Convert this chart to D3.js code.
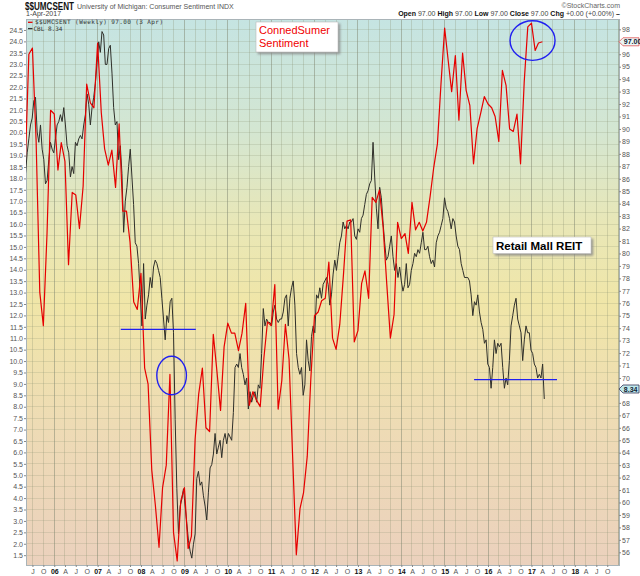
<!DOCTYPE html>
<html><head><meta charset="utf-8">
<script src="https://cdn.jsdelivr.net/npm/d3@7"></script>
<style>
body{margin:0;background:#fff;}
text{font-family:"Liberation Sans",Arial,sans-serif;}
</style>
</head><body>
<svg id="chart" width="640" height="576"></svg>
<script>
// ---------------- DATA ----------------
// University of Michigan Consumer Sentiment (monthly, right axis)
const sentStart = "2005-05-01";
const sentValues = [
 86.9,96.0,96.5,89.1,76.9,74.2,81.6,91.5,               // 2005 May-Dec
 91.2,86.7,88.9,87.4,79.1,84.9,84.7,82.0,85.4,93.6,92.1,91.7, // 2006
 96.9,91.3,88.4,87.1,88.3,85.3,90.4,83.4,83.4,80.9,76.1,75.5, // 2007
 78.4,70.8,69.5,62.6,59.8,56.4,61.2,63.0,70.3,57.6,55.3,60.1, // 2008
 61.2,56.3,57.3,65.1,68.7,70.8,66.0,65.7,73.5,70.6,67.4,72.5, // 2009
 74.4,73.6,73.6,72.2,73.6,76.0,67.8,68.9,68.2,67.7,71.6,74.5, // 2010
 74.2,77.5,67.5,69.8,74.3,71.5,63.7,55.8,59.5,60.8,63.7,69.9, // 2011
 75.0,75.3,76.2,76.4,79.3,73.2,72.3,74.3,78.3,82.6,82.7,72.9, // 2012
 73.8,77.6,78.6,76.4,84.5,84.1,85.1,82.1,77.5,73.2,75.1,82.5, // 2013
 81.2,81.6,80.0,84.1,81.9,82.5,81.8,82.5,84.6,86.9,88.8,93.6, // 2014
 98.1,95.4,93.0,95.9,90.7,96.1,93.1,91.9,87.2,90.0,91.3,92.6, // 2015
 92.0,91.7,91.0,89.0,94.7,93.5,90.0,89.8,91.2,87.2,93.8,98.2, // 2016
 98.5,96.3,96.9,97.0                                          // 2017
];
// CBL (biweekly readings, left axis)
const cblStart = "2005-05-04";
const cblStepDays = 14;
const cblValues = [
 18.21,19.12,19.73,20.34,20.64,21.40,21.55,20.03,19.58,20.34,
 19.28,18.82,17.76,17.91,18.82,19.58,19.28,19.12,19.73,20.34,
 20.49,20.79,20.49,21.10,20.34,19.43,19.12,18.06,18.52,18.21,
 19.58,19.43,19.73,19.88,19.73,20.34,20.79,21.70,21.25,20.34,
 21.10,21.55,22.16,23.07,23.98,23.52,24.43,24.28,22.99,22.99,
 23.68,23.83,22.61,21.10,20.34,20.49,18.82,19.43,18.21,15.64,
 17.00,17.61,18.52,19.28,18.06,16.85,15.18,15.03,14.27,12.90,
 11.54,14.27,11.84,12.45,12.90,13.66,13.21,14.12,14.42,14.27,
 13.97,13.66,12.75,11.84,10.93,11.99,11.69,12.60,12.75,11.24,
 7.44,4.41,2.43,3.65,3.95,4.41,3.65,2.89,2.13,1.68,
 1.37,1.98,2.43,4.86,5.17,4.56,4.71,4.10,3.65,3.04,
 4.26,5.32,5.47,5.93,6.83,5.93,6.23,6.53,5.77,6.53,
 6.83,6.38,6.83,6.68,6.53,7.75,9.72,9.87,9.72,10.33,
 9.72,9.42,8.96,9.26,7.90,8.66,8.20,8.50,8.66,8.20,
 8.96,8.81,10.33,12.30,11.54,11.84,11.69,11.69,11.54,12.15,
 12.45,11.84,11.69,11.84,11.84,12.15,12.75,12.90,11.54,12.75,
 13.21,13.51,
 12.45,10.33,9.72,9.42,9.72,8.50,8.96,10.93,10.02,9.57,
 11.08,11.54,11.24,12.90,12.75,13.21,12.75,13.36,13.51,13.66,
 13.36,12.45,12.90,13.81,14.42,13.97,14.57,15.18,15.48,16.09,
 15.79,15.94,15.79,16.09,16.09,16.24,15.48,15.33,15.79,15.64,
 16.24,16.39,16.85,17.30,17.46,17.76,17.91,19.58,18.06,16.70,
 15.79,17.61,17.15,16.09,15.18,14.42,14.57,15.03,15.48,14.57,
 13.97,14.27,13.66,14.12,13.51,13.06,13.36,14.27,13.21,13.36,
 13.97,14.27,14.72,14.57,14.88,14.72,15.18,15.64,14.88,14.88,
 15.03,14.57,14.27,14.42,14.12,15.18,15.48,15.64,15.94,16.24,
 17.15,16.70,16.55,16.24,15.79,16.24,16.09,15.48,15.03,14.88,
 14.27,13.97,13.66,13.66,13.66,13.51,12.90,11.99,12.60,12.45,
 12.90,12.15,11.69,11.39,10.78,10.93,9.87,9.72,8.81,9.72,
 10.93,10.33,10.78,10.63,10.78,9.72,8.81,9.26,8.96,10.02,
 11.54,11.99,12.45,12.75,11.84,11.54,11.24,10.02,10.93,11.54,
 11.24,11.24,10.48,10.33,9.87,9.72,9.26,9.42,9.26,9.87,
 8.34
];
const leftTicks = d3.range(1.5, 24.51, 0.5);
const rightTicks = d3.range(56, 99, 1);
const quarterLetters = {3:"A",6:"J",9:"O"};
const headerLabels = ["Open","High","Low","Close","Chg"];
const headerValues = ["97.00","97.00","97.00","97.00","+0.00 (+0.00%)"];
const lastSent = 97.00, lastSentDate = "2017-04-03", lastCbl = 8.34;
// annotations (values in data units)
const hLines = [{from:"2007-07-15",to:"2009-04-07",v:11.39},{from:"2015-09-06",to:"2017-08-04",v:9.19}];
const circles = [{d:"2008-09-15",v:70.2,rx:14.8,ry:19.2},{d:"2017-01-10",v:97.1,rx:22.5,ry:19.8}];

// ---------------- SCALES ----------------
const P = {l:26, r:619, t:19, b:565};
const svg = d3.select("#chart");
const x = d3.scaleTime().domain([new Date(2005,4,8), new Date(2019,0,8)]).range([P.l, P.r]);
const yL = d3.scaleLinear().domain([24.98, 1.07]).range([P.t, P.b]);
const yR = d3.scaleLinear().domain([98.83, 54.98]).range([P.t, P.b]);
const parse = d3.timeParse("%Y-%m-%d");

const sentData = sentValues.map((v,i)=>({d: i===sentValues.length-1 ? parse(lastSentDate) : d3.timeMonth.offset(parse(sentStart), i), v}));
const cblData = cblValues.map((v,i)=>({d: d3.timeDay.offset(parse(cblStart), i*cblStepDays), v}));

// tag positions (used to hide axis labels underneath them, as in the reference)
const tagSentY = yR(lastSent);
const tagCblY = yL(lastCbl) - 10;

// ---------------- BACKGROUND ----------------
const defs = svg.append("defs");
const g = defs.append("linearGradient").attr("id","bg").attr("x1",0).attr("y1",0).attr("x2",0).attr("y2",1);
[[0,"#c5e4e2"],[0.2,"#d3e6d2"],[0.38,"#e9e7b6"],[0.52,"#f0e6a8"],[0.75,"#eedbb5"],[1,"#ebd1bd"]]
 .forEach(([o,c])=>g.append("stop").attr("offset",o).attr("stop-color",c));
defs.append("clipPath").attr("id","clip").append("rect")
 .attr("x",P.l).attr("y",P.t).attr("width",P.r-P.l).attr("height",P.b-P.t);
const sh = defs.append("filter").attr("id","shadow").attr("x","-10%").attr("y","-10%").attr("width","130%").attr("height","140%");
sh.append("feDropShadow").attr("dx",2).attr("dy",2).attr("stdDeviation",0.8).attr("flood-color","#888").attr("flood-opacity",0.8);

svg.append("rect").attr("x",P.l).attr("y",P.t).attr("width",P.r-P.l).attr("height",P.b-P.t).attr("fill","url(#bg)");

// grid
const grid = svg.append("g").attr("clip-path","url(#clip)");
leftTicks.forEach(v=>grid.append("line").attr("x1",P.l).attr("x2",P.r).attr("y1",yL(v)).attr("y2",yL(v))
  .attr("stroke","#8a9070").attr("stroke-opacity",0.22).attr("stroke-width",1).attr("shape-rendering","crispEdges"));
const qTicks = d3.timeMonth.every(3).range(new Date(2005,6,1), new Date(2019,0,2));
qTicks.forEach(d=>grid.append("line").attr("x1",x(d)).attr("x2",x(d)).attr("y1",P.t).attr("y2",P.b)
  .attr("stroke", d.getMonth()===0 ? "#7f8570" : "#8a9070")
  .attr("stroke-opacity", d.getMonth()===0 ? 0.5 : 0.28).attr("stroke-width",1).attr("shape-rendering","crispEdges"));

// border
svg.append("rect").attr("x",P.l).attr("y",P.t).attr("width",P.r-P.l).attr("height",P.b-P.t)
 .attr("fill","none").attr("stroke","#a9b4b8").attr("stroke-width",1).attr("shape-rendering","crispEdges");

// ---------------- AXES ----------------
const axL = svg.append("g").attr("transform",`translate(${P.l},0)`)
 .call(d3.axisLeft(yL).tickValues(leftTicks).tickFormat(d3.format(".1f")).tickSize(2).tickPadding(1));
const rightShown = rightTicks.filter(v=>Math.abs(yR(v)-tagSentY)>6 && Math.abs(yR(v)-tagCblY)>6);
const axR = svg.append("g").attr("transform",`translate(${P.r},0)`)
 .call(d3.axisRight(yR).tickValues(rightShown).tickFormat(d3.format("d")).tickSize(2).tickPadding(1));
const axB = svg.append("g").attr("transform",`translate(0,${P.b})`)
 .call(d3.axisBottom(x).tickValues(qTicks.filter(d=>x(d)<P.r-2))
   .tickFormat(d=> d.getMonth()===0 ? d3.timeFormat("%y")(d) : quarterLetters[d.getMonth()]).tickSize(2).tickPadding(2));
[axL,axR,axB].forEach(a=>{
  a.select(".domain").remove();
  a.selectAll(".tick line").attr("stroke","#888");
  a.selectAll("text").style("font-size","7px").style("fill","#555").style("font-family","Liberation Sans, Arial, sans-serif");
});
axB.selectAll(".tick text").filter(d=>d.getMonth()===0).style("font-weight","bold").style("fill","#111");

// ---------------- LINES ----------------
const lines = svg.append("g").attr("clip-path","url(#clip)");
lines.append("path").datum(cblData)
 .attr("d", d3.line().x(d=>x(d.d)).y(d=>yL(d.v)))
 .attr("fill","none").attr("stroke","#2f2f2a").attr("stroke-width",1).attr("stroke-linejoin","round");
lines.append("path").datum(sentData)
 .attr("d", d3.line().x(d=>x(d.d)).y(d=>yR(d.v)))
 .attr("fill","none").attr("stroke","#e60000").attr("stroke-width",1.2).attr("stroke-linejoin","round");

// ---------------- ANNOTATIONS ----------------
const ann = svg.append("g");
hLines.forEach(h=>ann.append("line").attr("x1",x(parse(h.from))).attr("x2",x(parse(h.to)))
  .attr("y1",yL(h.v)).attr("y2",yL(h.v)).attr("stroke","#2020f0").attr("stroke-width",1.3));
circles.forEach(c=>ann.append("ellipse").attr("cx",x(parse(c.d))).attr("cy",yR(c.v)).attr("rx",c.rx).attr("ry",c.ry)
 .attr("fill","none").attr("stroke","#2020f0").attr("stroke-width",1.4));

// text boxes
const b1 = ann.append("g");
b1.append("rect").attr("x",256).attr("y",22).attr("width",82).attr("height",30).attr("fill","#fff")
 .attr("stroke","#bbb").attr("stroke-width",0.6).attr("filter","url(#shadow)");
b1.append("text").attr("x",259).attr("y",34).text("ConnedSumer").style("font-size","11px").style("fill","#f00000");
b1.append("text").attr("x",259).attr("y",47).text("Sentiment").style("font-size","11px").style("fill","#f00000");
const b2 = ann.append("g");
b2.append("rect").attr("x",493).attr("y",237).attr("width",98).attr("height",16.5).attr("fill","#fff")
 .attr("stroke","#bbb").attr("stroke-width",0.6).attr("filter","url(#shadow)");
b2.append("text").attr("x",496).attr("y",249.5).text("Retail Mall REIT").style("font-size","11.5px").style("font-weight","bold").style("fill","#000");

// ---------------- VALUE TAGS ----------------
function tag(yv, label, stroke, fill){
  const gg = svg.append("g").attr("transform",`translate(${P.r},${yv})`);
  gg.append("path").attr("d","M0,0 L4,-4 L20,-4 L20,4 L4,4 Z").attr("fill",fill).attr("stroke",stroke).attr("stroke-width",0.8);
  gg.append("text").attr("x",4.8).attr("y",2.6).text(label).style("font-size","7px").style("font-weight","bold").style("fill","#123");
}
tag(tagSentY, d3.format(".2f")(lastSent), "#e05050", "#eaf6f6");
tag(tagCblY, d3.format(".2f")(lastCbl), "#335", "#bfe9ec");

// ---------------- LEGEND ----------------
const lg = svg.append("g");
lg.append("line").attr("x1",28).attr("x2",32.5).attr("y1",22.3).attr("y2",22.3).attr("stroke","#e60000").attr("stroke-width",1.3);
lg.append("text").attr("x",35).attr("y",24.4).text(`$$UMCSENT (Weekly) ${d3.format(".2f")(lastSent)} (3 Apr)`)
 .style("font-size","6px").style("fill","#333").style("font-family","DejaVu Sans Mono, monospace")
 .attr("textLength",128).attr("lengthAdjust","spacing");
lg.append("line").attr("x1",28).attr("x2",32.5).attr("y1",28.6).attr("y2",28.6).attr("stroke","#333").attr("stroke-width",1.3);
lg.append("text").attr("x",33.5).attr("y",31).text(`CBL ${d3.format(".2f")(lastCbl)}`)
 .style("font-size","6px").style("fill","#333").style("font-family","DejaVu Sans Mono, monospace");

// ---------------- HEADER ----------------
svg.append("text").attr("x",25).attr("y",9.5).text("$$UMCSENT").style("font-size","10px").style("font-weight","bold")
 .style("fill","#111").attr("textLength",49).attr("lengthAdjust","spacingAndGlyphs");
svg.append("text").attr("x",77).attr("y",9.3).text("University of Michigan: Consumer Sentiment INDX").style("font-size","7px").style("fill","#555");
svg.append("text").attr("x",26).attr("y",16.3).text("1-Apr-2017").style("font-size","7px").style("fill","#444");
svg.append("text").attr("x",620).attr("y",7.5).attr("text-anchor","end").text("\u00A9StockCharts.com").style("font-size","7px").style("fill","#666");
const hdr = svg.append("text").attr("x",620).attr("y",16.3).attr("text-anchor","end").style("font-size","7px").style("white-space","pre").style("fill","#333");
headerLabels.forEach((l,i)=>{
  hdr.append("tspan").text((i? " ":"")+l+" ").style("font-weight","bold").style("fill","#111");
  hdr.append("tspan").text(headerValues[i]).style("fill","#444");
});
hdr.append("tspan").text(" \u2013").style("font-weight","bold").style("fill","#111");
</script>
</body></html>
